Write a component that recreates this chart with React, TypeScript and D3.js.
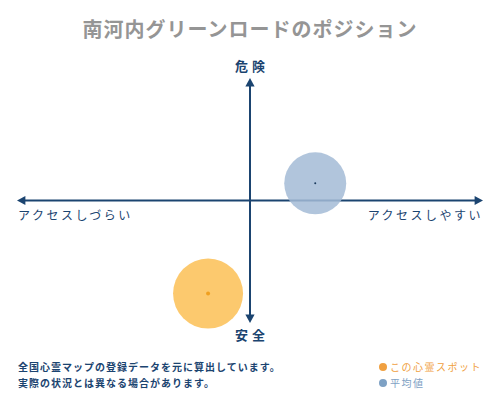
import * as React from 'react';
import * as d3 from 'd3';

// position data (x: access ease, y: danger), radius in domain units
const seriesNames = ['この心霊スポット', '平均値'];
const seriesX = [-9, 14];
const seriesY = [-38, 7];
const seriesSize = [35, 31];
const seriesFill = ['#fbbf55', '#a3bbd6'];
const seriesDot = ['#f0a020', '#1a3a5c'];
const legendColors = ['#f0a040', '#7ea1c4'];

const axisLabels = { top: '危険', bottom: '安全', left: 'アクセスしづらい', right: 'アクセスしやすい' };
const noteLines = ['全国心霊マップの登録データを元に算出しています。', '実際の状況とは異なる場合があります。'];
const title = '南河内グリーンロードのポジション';

const navy = '#1b4470';
const serif = '"Noto Sans CJK JP", "DejaVu Serif", serif';

function App() {
    const width = 500;
    const height = 400;

    const x = d3.scaleLinear().domain([-50, 50]).range([17, 483]);
    const y = d3.scaleLinear().domain([-50, 50]).range([323, 78]);

    const arrow = (tipX: number, tipY: number, dir: string) => {
        const s = 6;
        let pts: [number, number][] = [];
        if (dir === 'up') { pts = [[tipX, tipY], [tipX - s / 1.3, tipY + s * 1.4], [tipX + s / 1.3, tipY + s * 1.4]]; }
        if (dir === 'down') { pts = [[tipX, tipY], [tipX - s / 1.3, tipY - s * 1.4], [tipX + s / 1.3, tipY - s * 1.4]]; }
        if (dir === 'left') { pts = [[tipX, tipY], [tipX + s * 1.4, tipY - s / 1.3], [tipX + s * 1.4, tipY + s / 1.3]]; }
        if (dir === 'right') { pts = [[tipX, tipY], [tipX - s * 1.4, tipY - s / 1.3], [tipX - s * 1.4, tipY + s / 1.3]]; }
        return d3.line()(pts) + 'Z';
    };

    const x0 = x(0);
    const y0 = y(0);

    return (
        <svg width={width} height={height} style={{ position: 'absolute', left: 0, top: 0, background: '#fff' }}
            fontFamily={serif}>
            <rect width={width} height={height} fill="#fff" />
            <text x={250} y={37} textAnchor="middle" fontSize={20} fontWeight="bold" fill="#959595" letterSpacing={1}>{title}</text>

            {/* axes */}
            <line x1={x.range()[0] + 4} x2={x.range()[1] - 4} y1={y0} y2={y0} stroke={navy} strokeWidth={2} />
            <line x1={x0} x2={x0} y1={y.range()[1] + 4} y2={y.range()[0] - 4} stroke={navy} strokeWidth={2} />
            <path d={arrow(x.range()[0], y0, 'left')} fill={navy} />
            <path d={arrow(x.range()[1], y0, 'right')} fill={navy} />
            <path d={arrow(x0, y.range()[1], 'up')} fill={navy} />
            <path d={arrow(x0, y.range()[0], 'down')} fill={navy} />

            <text x={x0 + 2} y={71} textAnchor="middle" fontSize={13} fontWeight="bold" fill={navy} letterSpacing={4}>{axisLabels.top}</text>
            <text x={x0 + 2} y={340} textAnchor="middle" fontSize={13} fontWeight="bold" fill={navy} letterSpacing={4}>{axisLabels.bottom}</text>
            <text x={18} y={220} textAnchor="start" fontSize={12} fill={navy} letterSpacing={2.5}>{axisLabels.left}</text>
            <text x={483} y={220} textAnchor="end" fontSize={12} fill={navy} letterSpacing={2.5}>{axisLabels.right}</text>

            {/* bubbles */}
            {seriesNames.map((n, i) => (
                <g key={n}>
                    <circle cx={x(seriesX[i])} cy={y(seriesY[i])} r={seriesSize[i]} fill={seriesFill[i]} opacity={0.85} />
                    <circle cx={x(seriesX[i])} cy={y(seriesY[i])} r={i === 0 ? 2 : 1} fill={seriesDot[i]} />
                </g>
            ))}

            {/* footnote */}
            {noteLines.map((t, i) => (
                <text key={t} x={18} y={371 + i * 16} fontSize={10} fontWeight="bold" fill={navy} letterSpacing={1}>{t}</text>
            ))}

            {/* legend */}
            {seriesNames.map((n, i) => (
                <g key={'lg' + n}>
                    <circle cx={383} cy={367 + i * 16} r={4} fill={legendColors[i]} />
                    <text x={390} y={371 + i * 16} fontSize={10} fill={legendColors[i]} letterSpacing={1.5}>{n}</text>
                </g>
            ))}
        </svg>
    );
}

export default App;
